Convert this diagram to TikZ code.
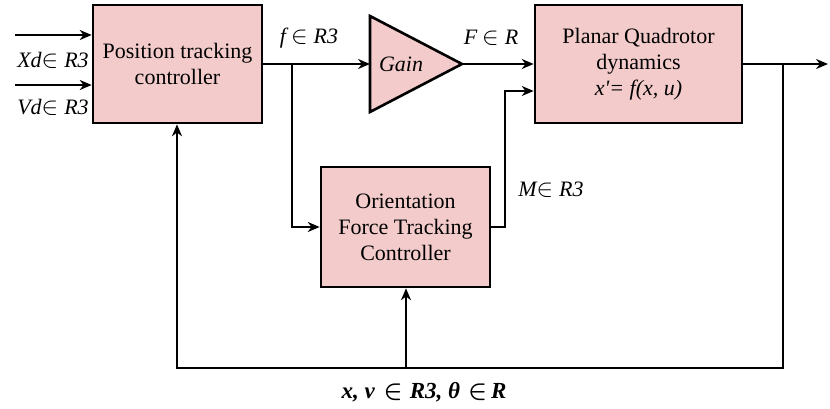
\documentclass[tikz,border=0pt]{standalone}
\usepackage{amsmath}
\usepackage{fontspec}
\setmainfont{Liberation Serif}
\newfontfamily\timesfam{Liberation Serif}
\usetikzlibrary{arrows.meta}
\definecolor{blockpink}{RGB}{243,203,203}
\newcommand{\gap}[1]{\hspace{#1pt}}
\newcommand{\elem}{{\fontsize{23}{23}\selectfont$\in$}}
\newcommand{\bigelem}{{\fontsize{29}{29}\selectfont$\boldsymbol{\in}$}}
\begin{document}
\begin{tikzpicture}[x=1pt,y=-1pt,
  blk/.style={draw=black, line width=2.6pt, fill=blockpink, align=center,
    font=\timesfam\fontsize{22}{26}\selectfont, inner sep=0pt},
  wire/.style={line width=2.2pt},
  arr/.style={wire, -{Stealth[length=12pt,width=10pt]}},
  lbl/.style={font=\timesfam\fontsize{22}{25}\selectfont\itshape, inner sep=0pt}]
\useasboundingbox (0,0) rectangle (830,409);

% blocks
\node[blk, minimum width=169pt, minimum height=118pt] (pos) at (177.5,64)
  {Position tracking\\controller};
\node[blk, minimum width=207pt, minimum height=118pt] (plant) at (638.5,64)
  {Planar Quadrotor\\dynamics\\\textit{x'= f(x, u)}};
\node[blk, minimum width=169pt, minimum height=120pt] (orient) at (405.5,227)
  {Orientation\\Force Tracking\\Controller};

% gain triangle
\coordinate (gin) at (370,64);
\coordinate (gout) at (462,64);
\draw[line width=2.6pt, fill=blockpink] (370,16) -- (gout) -- (370,112) -- cycle;
\node[lbl] (gaintxt) at (401,64) {Gain};

% helper points
\coordinate (fsplit) at (292,64);
\coordinate (fdown) at (292,227);
\coordinate (mright) at (505,227);
\coordinate (mup) at (505,91);
\coordinate (ysplit) at (783,64);
\coordinate (yout) at (828,64);
\coordinate (fbr) at (783,368);
\coordinate (fbl) at (177,368);
\coordinate (fbm) at (406,368);
\coordinate (xin) at (15,35);
\coordinate (vin) at (15,85);

% reference inputs
\draw[arr] (xin) -- (xin -| pos.west);
\draw[arr] (vin) -- (vin -| pos.west);

% forward path
\draw[arr] (pos.east) -- (gin);
\draw[arr] (gout) -- (gout -| plant.west);
\draw[arr] (fsplit) -- (fdown) -- (orient.west);
\draw[arr] (orient.east) -- (mright) -- (mup) -- (mup -| plant.west);
\draw[arr] (plant.east) -- (yout);

% feedback
\draw[arr] (ysplit) -- (fbr) -- (fbl) -- (pos.south -| fbl);
\draw[arr, line width=1.8pt] (fbm) -- (orient.south -| fbm);

% signal labels
\node[lbl] (xdl) at (53,60) {Xd\elem\gap{6}R3};
\node[lbl] (vdl) at (53,107) {Vd\elem\gap{6}R3};
\node[lbl] (fl) at (309,38) {f\gap{5}\elem\gap{6}R3};
\node[lbl] (Fl) at (491,38) {F\gap{5}\elem\gap{6}R};
\node[lbl] (ml) at (551,190) {M\elem\gap{6}R3};
\node[lbl, font=\timesfam\fontsize{23}{25}\selectfont\bfseries\itshape] (statel) at (424,392)
  {x, v\gap{9}\bigelem\gap{7}R3, θ\gap{8}\bigelem\gap{4}R};
\end{tikzpicture}
\end{document}
